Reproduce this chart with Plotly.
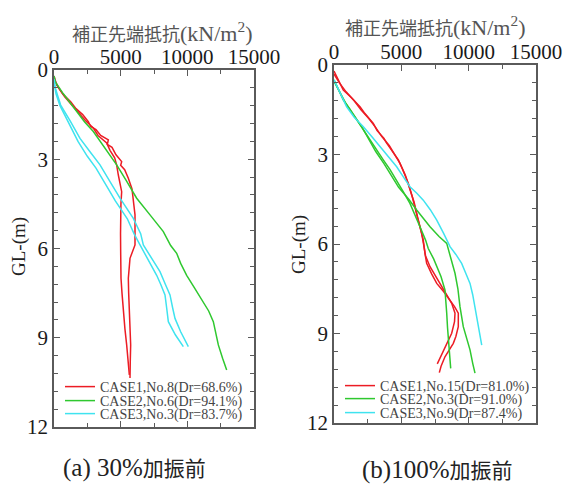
import plotly.graph_objects as go

# ---------------- data ----------------
x_ticks = [0, 5000, 10000, 15000]
y_ticks = [0, 3, 6, 9, 12]

# (a) 30% before shaking : depth (m) , corrected tip resistance (kN/m2)
a_case1_r1_d = [0.2, 0.5, 0.8, 1.07, 1.3, 1.5, 1.74, 1.9, 2.0, 2.2, 2.35, 2.5, 2.6, 2.85, 3.08, 3.2, 3.35, 3.64, 4.0, 4.31, 4.87, 5.43, 5.88, 6.33, 7.0, 7.5, 8.12, 8.7, 9.24, 9.8, 10.35]
a_case1_r1_q = [0, 200, 650, 1250, 1650, 2150, 2575, 2750, 3150, 3500, 4075, 4000, 4350, 4650, 5075, 5000, 5300, 5575, 5850, 5950, 6075, 6075, 6075, 5700, 5575, 5600, 5650, 5700, 5750, 5720, 5700]
a_case1_r2_d = [0.3, 0.6, 0.9, 1.2, 1.45, 1.7, 1.95, 2.2, 2.45, 2.7, 2.95, 3.2, 3.53, 3.8, 4.09, 4.5, 4.87, 5.5, 6.1, 6.6, 7.0, 7.5, 8.12, 8.7, 9.24, 9.8, 10.25]
a_case1_r2_q = [0, 350, 800, 1400, 1900, 2350, 2950, 3300, 3950, 4200, 4550, 4700, 4825, 4950, 5075, 5020, 5000, 4990, 5000, 5010, 5025, 5100, 5200, 5320, 5450, 5560, 5650]
a_case2_r1_d = [0.2, 0.4, 0.8, 1.1, 1.4, 1.75, 2.07, 2.6, 3.19, 3.7, 4.31, 4.87, 5.43, 5.9, 6.16, 6.5, 6.9, 7.3, 7.79, 8.1, 8.46, 8.9, 9.24, 9.7, 10.08]
a_case2_r1_q = [0, 100, 700, 1200, 1700, 2300, 2950, 3800, 4700, 5400, 6200, 7200, 8200, 8750, 9200, 9500, 9950, 10500, 11200, 11600, 11950, 12150, 12325, 12650, 12950]
a_case3_r1_d = [0.3, 0.6, 0.9, 1.18, 1.7, 2.3, 2.75, 3.19, 3.75, 4.31, 4.99, 5.5, 5.88, 6.3, 6.78, 7.2, 7.56, 8.0, 8.35, 8.8, 9.3]
a_case3_r1_q = [0, 100, 300, 500, 1200, 1950, 2700, 3450, 4200, 4950, 5950, 6500, 6700, 7300, 7950, 8350, 8700, 8900, 9075, 9500, 10075]
a_case3_r2_d = [0.4, 0.8, 1.2, 1.8, 2.4, 2.9, 3.3, 3.9, 4.4, 5.0, 5.5, 5.88, 6.4, 6.9, 7.2, 7.56, 8.0, 8.46, 8.9, 9.3]
a_case3_r2_q = [0, 150, 450, 1100, 1800, 2500, 3150, 3950, 4600, 5500, 6000, 6450, 7100, 7700, 8000, 8325, 8450, 8575, 9100, 9700]

# (b) 100% before shaking
b_case1_r1_d = [0.2, 0.5, 0.84, 1.1, 1.4, 1.6, 1.96, 2.2, 2.45, 2.62, 2.9, 3.18, 3.5, 3.97, 4.4, 4.75, 5.2, 5.64, 6.0, 6.4, 6.76, 7.0, 7.32, 7.7, 7.99, 8.32, 8.6, 8.99, 9.33, 9.7, 10.02]
b_case1_r1_q = [0, 300, 690, 1300, 1930, 2250, 2920, 3200, 3700, 3910, 4350, 4780, 5100, 5520, 5800, 6015, 6250, 6510, 6650, 6800, 7130, 7450, 7870, 8400, 8740, 8985, 8950, 8740, 8370, 8000, 7670]
b_case1_r2_d = [0.3, 0.6, 0.9, 1.2, 1.5, 1.8, 2.1, 2.4, 2.7, 3.0, 3.3, 3.7, 4.1, 4.6, 5.1, 5.64, 5.87, 6.3, 6.65, 7.0, 7.32, 7.6, 7.88, 8.1, 8.32, 8.77, 9.1, 9.33, 9.78, 10.1, 10.31]
b_case1_r2_q = [0, 400, 900, 1500, 2000, 2600, 3100, 3550, 4100, 4500, 4900, 5300, 5600, 5950, 6200, 6480, 6630, 6750, 6880, 7250, 7630, 8150, 8615, 8950, 9230, 9230, 9050, 8860, 8240, 7950, 7820]
b_case2_r1_d = [0.5, 0.8, 1.17, 1.5, 1.84, 2.2, 2.51, 2.85, 3.18, 3.5, 3.86, 4.25, 4.64, 5.0, 5.42, 5.87, 6.15, 6.5, 6.76, 7.1, 7.54, 8.0, 8.32, 8.8, 9.22, 9.7, 10.17]
b_case2_r1_q = [0, 300, 690, 1200, 1690, 2200, 2670, 3150, 3660, 4150, 4655, 5150, 5640, 6000, 6385, 6800, 7000, 7400, 7630, 7950, 8240, 8330, 8370, 8430, 8490, 8580, 8665]
b_case2_r2_d = [0.55, 0.9, 1.3, 1.7, 2.1, 2.5, 2.9, 3.3, 3.7, 4.1, 4.5, 4.86, 5.42, 5.75, 5.98, 6.5, 6.98, 7.5, 8.1, 8.77, 9.2, 9.55, 10.0, 10.33]
b_case2_r2_q = [0, 400, 900, 1500, 2100, 2600, 3100, 3700, 4250, 4800, 5550, 6140, 7130, 7800, 8370, 8700, 8985, 9200, 9355, 9600, 9850, 10100, 10300, 10470]
b_case3_r1_d = [0.5, 0.9, 1.4, 1.75, 2.07, 2.4, 2.74, 3.1, 3.41, 3.75, 4.08, 4.3, 4.53, 4.85, 5.2, 5.65, 6.09, 6.35, 6.65, 7.0, 7.32, 7.7, 8.1, 8.77, 9.39]
b_case3_r1_q = [0, 400, 940, 1500, 2180, 2800, 3415, 4050, 4655, 5150, 5640, 6150, 6630, 7150, 7630, 8150, 8615, 9050, 9480, 9800, 10100, 10300, 10470, 10720, 10970]

a_names = ["CASE1,No.8(Dr=68.6%)", "CASE2,No.6(Dr=94.1%)", "CASE3,No.3(Dr=83.7%)"]
b_names = ["CASE1,No.15(Dr=81.0%)", "CASE2,No.3(Dr=91.0%)", "CASE3,No.9(Dr=87.4%)"]
colors = ["#ec1c24", "#2fc82f", "#3fe3ef"]

x_title = "<span style='font-size:18px'>補正先端抵抗</span>(kN/m<sup>2</sup>)"
y_title = "GL-(m)"
captions = ["(a) 30%<span style='font-size:21px'>加振前</span>",
            "(b)100%<span style='font-size:21px'>加振前</span>"]

# ---------------- figure ----------------
fig = go.Figure()

panel_a = [
    (a_case1_r1_q, a_case1_r1_d, 0, True), (a_case1_r2_q, a_case1_r2_d, 0, False),
    (a_case2_r1_q, a_case2_r1_d, 1, True),
    (a_case3_r1_q, a_case3_r1_d, 2, True), (a_case3_r2_q, a_case3_r2_d, 2, False),
]
panel_b = [
    (b_case1_r1_q, b_case1_r1_d, 0, True), (b_case1_r2_q, b_case1_r2_d, 0, False),
    (b_case2_r1_q, b_case2_r1_d, 1, True), (b_case2_r2_q, b_case2_r2_d, 1, False),
    (b_case3_r1_q, b_case3_r1_d, 2, True),
]

legend_ids = ["legend", "legend2", "legend3", "legend4", "legend5", "legend6"]

for q, d, k, show in panel_a:
    fig.add_trace(go.Scatter(x=q, y=d, mode="lines", name=a_names[k],
                             line=dict(color=colors[k], width=1.5),
                             showlegend=show, legend=legend_ids[k],
                             xaxis="x", yaxis="y"))
for q, d, k, show in panel_b:
    fig.add_trace(go.Scatter(x=q, y=d, mode="lines", name=b_names[k],
                             line=dict(color=colors[k], width=1.5),
                             showlegend=show, legend=legend_ids[3 + k],
                             xaxis="x2", yaxis="y2"))

W, H = 566, 484
axcol = "#5a5a5a"
serif = "Liberation Serif, Times New Roman, serif"
tickfont = dict(family=serif, size=21, color="#1a1a1a")


def xax(domain, anchor):
    return dict(domain=domain, anchor=anchor, range=[0, 15000], side="top",
                tickmode="array", tickvals=x_ticks, ticktext=[str(v) for v in x_ticks],
                ticks="inside", ticklen=6, tickwidth=1.2, tickcolor=axcol,
                minor=dict(tick0=0, dtick=2500, ticks="inside", ticklen=4, tickwidth=1.2, tickcolor=axcol),
                showline=True, linecolor=axcol, linewidth=1.5, mirror="ticks",
                showgrid=False, zeroline=False, tickfont=tickfont, fixedrange=True,
                automargin=False, ticklabeloverflow="allow", ticklabelstandoff=-4)


def yax(domain, anchor):
    return dict(domain=domain, anchor=anchor, range=[12, 0],
                tickmode="array", tickvals=y_ticks, ticktext=[str(v) for v in y_ticks],
                ticks="inside", ticklen=6, tickwidth=1.2, tickcolor=axcol,
                minor=dict(tick0=0, dtick=0.6, ticks="inside", ticklen=4, tickwidth=1.2, tickcolor=axcol),
                showline=True, linecolor=axcol, linewidth=1.5, mirror="ticks",
                showgrid=False, zeroline=False, tickfont=tickfont, fixedrange=True,
                automargin=False, ticklabeloverflow="allow")


def px(v):
    # window pixel -> paper fraction
    return v / W


def py(v):
    return 1 - v / H


legfont = dict(family=serif, size=14, color="#444")


def leg(xp, yp):
    return dict(x=px(xp), y=py(yp), xanchor="left", yanchor="middle",
                bgcolor="rgba(0,0,0,0)", borderwidth=0, font=legfont,
                itemwidth=30, tracegroupgap=0)


fig.update_layout(
    width=W, height=H,
    margin=dict(l=0, r=0, t=0, b=0, autoexpand=False),
    paper_bgcolor="white", plot_bgcolor="white",
    xaxis=xax([px(54), px(254)], "y"),
    yaxis=yax([py(427), py(70)], "x"),
    xaxis2=xax([px(334), px(536)], "y2"),
    yaxis2=yax([py(423), py(65)], "x2"),
    legend=leg(60, 387), legend2=leg(60, 401), legend3=leg(60, 414),
    legend4=leg(340, 386), legend5=leg(340, 399), legend6=leg(340, 413),
)

ann_font_serif = "Liberation Serif, Times New Roman, Noto Sans CJK JP, serif"
annotations = [
    dict(text=x_title, x=px(162), y=py(32), font=dict(family=ann_font_serif, size=22, color="#555")),
    dict(text=x_title, x=px(435), y=py(26), font=dict(family=ann_font_serif, size=22, color="#555")),
    dict(text=y_title, x=px(19), y=py(247), textangle=-90, font=dict(family=ann_font_serif, size=19, color="#222")),
    dict(text=y_title, x=px(299), y=py(245), textangle=-90, font=dict(family=ann_font_serif, size=19, color="#222")),
    dict(text=captions[0], x=px(134), y=py(468), font=dict(family=ann_font_serif, size=25, color="#222")),
    dict(text=captions[1], x=px(437), y=py(470), font=dict(family=ann_font_serif, size=25, color="#222")),
]
for a in annotations:
    a.update(xref="paper", yref="paper", showarrow=False, xanchor="center", yanchor="middle")
fig.update_layout(annotations=annotations)

# the default page body has an 8px margin; remove it so the figure fills the window
fig.write_html("out.html", config={"displayModeBar": False},
               post_script="document.body.style.margin='0';")
